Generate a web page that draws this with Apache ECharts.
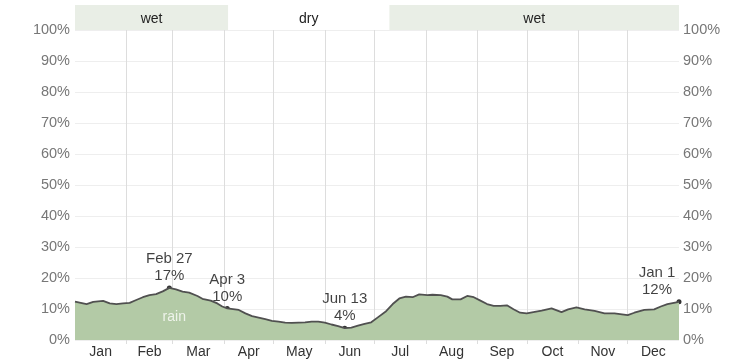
<!DOCTYPE html>
<html><head><meta charset="utf-8">
<script src="https://cdn.jsdelivr.net/npm/echarts@6/dist/echarts.min.js"></script>
<style>html,body{margin:0;padding:0;background:#fff}#c{width:753px;height:362px}</style>
</head><body><div id="c"></div>
<script>
const monthNames = ['Jan','Feb','Mar','Apr','May','Jun','Jul','Aug','Sep','Oct','Nov','Dec'];
const monthStarts = [0,31,59,90,120,151,181,212,243,273,304,334,365];
const rainDays = [0,7,11,17,21,25,29,33,37,41,45,49,53,57,61,65,69,74,77,82,86,89,92,99,103,107,111,115,119,123,127,131,135,139,143,147,151,155,159,163,167,171,175,179,183,188,192,196,200,204,208,213,216,221,225,228,233,237,241,245,249,253,257,261,265,269,273,277,282,288,294,298,303,308,314,320,326,334,338,344,350,354,358,365];
const rainPct = [12.4,11.6,12.3,12.6,11.8,11.6,11.8,12.0,12.9,13.8,14.5,14.8,15.7,16.8,16.3,15.6,15.3,14.2,13.3,12.7,11.8,10.8,10.2,9.7,8.6,7.7,7.2,6.7,6.2,5.9,5.6,5.5,5.6,5.7,5.9,5.9,5.6,5.0,4.5,3.8,4.0,4.6,5.2,5.7,7.3,9.3,11.6,13.4,14.0,13.8,14.7,14.5,14.6,14.5,14.0,13.1,13.1,14.2,13.8,12.7,11.6,11.0,11.0,11.2,9.9,8.8,8.6,9.0,9.5,10.2,9.0,9.9,10.5,9.9,9.4,8.6,8.6,8.0,8.8,9.7,9.9,10.8,11.6,12.3];
const highlightNames = ['Feb 27','Apr 3','Jun 13','Jan 1'];
const highlightDays = [57,92,163,365];
const highlightPct = [16.8,10.2,3.8,12.3];
const highlightLabels = ['17%','10%','4%','12%'];
const seasonNames = ['wet','dry','wet'];
const seasonStarts = [0,92.5,190];
const seasonEnds = [92.5,190,365];
const rainLabelPos = [60,7.4];

const monthMids = monthNames.map((m,i)=>(monthStarts[i]+monthStarts[i+1])/2);
const FONT = 'Liberation Sans, Arial, sans-serif';
const chart = echarts.init(document.getElementById('c'));
chart.setOption({
  animation:false,
  textStyle:{fontFamily:FONT},
  grid:[{left:75,right:74,top:30,bottom:22},{left:75,right:74,top:5,height:25}],
  xAxis:[
    {gridIndex:0,type:'value',min:0,max:365,
     axisLine:{show:false},
     axisTick:{show:true,length:4,lineStyle:{color:'#ddd'},customValues:monthStarts.slice(1,12)},
     splitLine:{show:true,lineStyle:{color:'#ddd'}},
     axisLabel:{customValues:monthMids,formatter:v=>monthNames[monthMids.indexOf(v)],color:'#333',fontSize:14,margin:5,fontFamily:FONT}},
    {gridIndex:1,type:'value',min:0,max:365,show:false}
  ],
  yAxis:[
    {gridIndex:0,type:'value',min:0,max:100,interval:10,
     axisLabel:{formatter:'{value}%',color:'#777',fontSize:14.5,margin:5,fontFamily:FONT},
     splitLine:{lineStyle:{color:'#eee'}},axisLine:{show:false},axisTick:{show:false}},
    {gridIndex:0,type:'value',position:'right',min:0,max:100,interval:10,
     axisLabel:{formatter:'{value}%',color:'#777',fontSize:14.5,margin:4,fontFamily:FONT},
     splitLine:{show:false},axisLine:{show:false},axisTick:{show:false}},
    {gridIndex:1,type:'value',min:0,max:1,show:false}
  ],
  series:[
    {type:'line',xAxisIndex:0,yAxisIndex:0,data:rainDays.map((d,i)=>[d,rainPct[i]]),
     showSymbol:false,symbol:'none',lineStyle:{color:'#505050',width:1.8},
     areaStyle:{color:'#b3caa6',opacity:1},
     markPoint:{silent:true,symbol:'circle',symbolSize:0,
       data:[{coord:rainLabelPos,value:'rain'}],
       label:{show:true,position:'inside',formatter:'rain',color:'#eef3ea',fontSize:14,fontFamily:FONT}}},
    {type:'scatter',xAxisIndex:0,yAxisIndex:0,clip:false,symbolSize:5,itemStyle:{color:'#000'},
     data:highlightDays.map((d,i)=>({value:[d,highlightPct[i]],
        label:{offset:[i===3?-22:0,0]}})),
     label:{show:true,position:'top',distance:1,fontSize:15,lineHeight:17,color:'#111',fontFamily:FONT,
       formatter:p=>highlightNames[p.dataIndex]+'\n'+highlightLabels[p.dataIndex]}},
    {type:'line',xAxisIndex:1,yAxisIndex:2,data:[[0,0]],symbol:'none',lineStyle:{width:0},
     markArea:{silent:true,
       label:{show:true,position:'inside',color:'#222',fontSize:14,offset:[0,2],fontFamily:FONT},
       data:seasonNames.map((n,i)=>[
         {xAxis:seasonStarts[i],yAxis:0,name:n,itemStyle:{color:n==='wet'?'#e9eee6':'rgba(0,0,0,0)'}},
         {xAxis:seasonEnds[i],yAxis:1}])}}
  ]
});
</script></body></html>
